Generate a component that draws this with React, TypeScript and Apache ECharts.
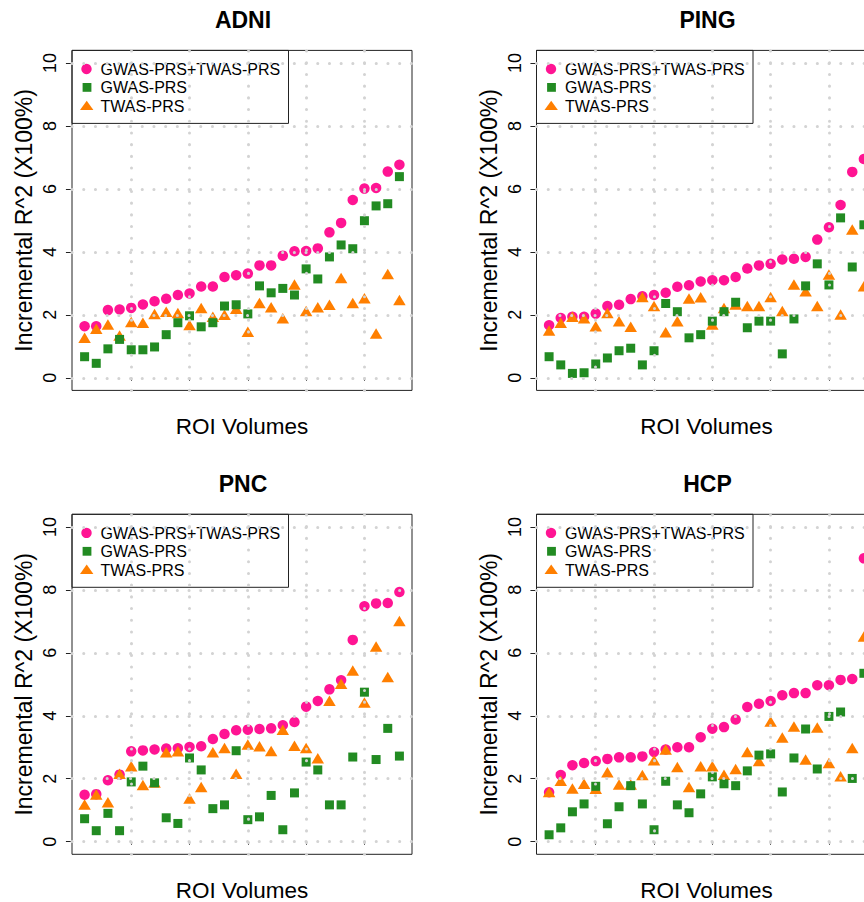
import React, { useEffect, useRef } from "react";
import * as echarts from "echarts";

// ---------- data ----------
const roiIndex = [1, 2, 3, 4, 5, 6, 7, 8, 9, 10, 11, 12, 13, 14, 15, 16, 17, 18, 19, 20, 21, 22, 23, 24, 25, 26, 27, 28];
const yTicks = [0, 2, 4, 6, 8, 10];
const xTicks = [5, 10, 15, 20, 25];
const panelNames = ["ADNI", "PING", "PNC", "HCP"];
const seriesNames = ["GWAS-PRS+TWAS-PRS", "GWAS-PRS", "TWAS-PRS"];

const adniCombined = [1.64, 1.64, 2.15, 2.17, 2.22, 2.33, 2.43, 2.51, 2.63, 2.68, 2.9, 2.9, 3.2, 3.26, 3.31, 3.57, 3.57, 3.88, 4.02, 4.03, 4.11, 4.62, 4.92, 5.65, 6.01, 6.03, 6.55, 6.77];
const adniGwas = [0.67, 0.46, 0.92, 1.22, 0.89, 0.89, 0.98, 1.37, 1.75, 1.97, 1.62, 1.75, 2.28, 2.32, 2.03, 2.92, 2.7, 2.84, 2.63, 3.46, 3.14, 3.84, 4.22, 4.1, 4.99, 5.46, 5.53, 6.39];
const adniTwas = [1.27, 1.56, 1.69, 1.34, 1.77, 1.75, 2.03, 2.1, 2.06, 1.68, 2.22, 1.94, 2.0, 2.19, 1.46, 2.38, 2.24, 1.89, 2.96, 2.12, 2.24, 2.32, 3.17, 2.38, 2.53, 1.41, 3.3, 2.47];

const pingCombined = [1.67, 1.9, 1.94, 1.94, 2.04, 2.28, 2.32, 2.5, 2.59, 2.63, 2.7, 2.89, 2.94, 3.06, 3.1, 3.1, 3.2, 3.47, 3.57, 3.62, 3.76, 3.78, 3.84, 4.39, 4.78, 5.49, 6.54, 6.95];
const pingGwas = [0.67, 0.41, 0.14, 0.16, 0.44, 0.63, 0.86, 0.94, 0.41, 0.86, 2.36, 2.1, 1.27, 1.37, 1.8, 2.1, 2.4, 1.59, 1.8, 1.8, 0.76, 1.87, 2.92, 3.62, 2.95, 5.08, 3.52, 4.86];
const pingTwas = [1.5, 1.75, 1.94, 1.89, 1.64, 2.06, 1.8, 1.62, 2.57, 2.28, 1.45, 1.8, 2.52, 2.56, 1.69, 2.22, 2.33, 2.28, 2.28, 2.57, 2.12, 2.96, 2.75, 2.28, 3.28, 2.01, 4.71, 2.91];

const pncCombined = [1.49, 1.51, 1.95, 2.13, 2.87, 2.9, 2.93, 2.96, 2.97, 3.01, 3.03, 3.26, 3.42, 3.54, 3.56, 3.58, 3.6, 3.7, 3.8, 4.29, 4.47, 4.84, 5.13, 6.41, 7.48, 7.57, 7.58, 7.93];
const pncGwas = [0.73, 0.35, 0.9, 0.35, 1.9, 2.4, 1.87, 0.76, 0.58, 2.66, 2.28, 1.05, 1.17, 2.89, 0.7, 0.79, 1.47, 0.38, 1.55, 2.53, 2.28, 1.17, 1.17, 2.69, 4.75, 2.61, 3.6, 2.72];
const pncTwas = [1.18, 1.5, 1.25, 2.16, 2.4, 1.8, 1.88, 2.84, 2.87, 1.37, 1.74, 2.84, 2.98, 2.16, 3.09, 3.03, 2.88, 3.56, 3.05, 2.98, 2.65, 4.48, 5.02, 5.44, 4.42, 6.2, 5.23, 7.01];

const hcpCombined = [1.57, 2.12, 2.43, 2.5, 2.56, 2.63, 2.68, 2.68, 2.71, 2.85, 2.93, 3.0, 3.0, 3.32, 3.59, 3.64, 3.88, 4.28, 4.38, 4.47, 4.65, 4.72, 4.72, 4.97, 4.97, 5.14, 5.17, 9.0];
const hcpGwas = [0.22, 0.44, 0.95, 1.2, 1.76, 0.57, 1.11, 1.78, 1.2, 0.38, 1.92, 1.17, 0.92, 1.52, 2.06, 1.84, 1.78, 2.25, 2.75, 2.79, 1.58, 2.66, 3.58, 2.31, 3.98, 4.12, 2.01, 5.35];
const hcpTwas = [1.58, 1.94, 1.69, 1.84, 1.68, 2.21, 1.82, 1.82, 2.12, 2.59, 2.93, 2.37, 1.74, 2.4, 2.4, 2.13, 2.31, 2.85, 2.56, 3.82, 3.31, 3.66, 2.61, 3.63, 2.5, 2.08, 2.98, 6.52];

const combinedByPanel = [adniCombined, pingCombined, pncCombined, hcpCombined];
const gwasByPanel = [adniGwas, pingGwas, pncGwas, hcpGwas];
const twasByPanel = [adniTwas, pingTwas, pncTwas, hcpTwas];

// ---------- styling / layout ----------
const FONT = "'Liberation Sans', Arial, Helvetica, sans-serif";
const PINK = "#FF1493";
const GREEN = "#228B22";
const ORANGE = "#FF7F00";
const BOX = "#222222";
const GRID_DOT = "#D3D3D3";
const PANEL_W = 340;
const PANEL_H = 340;
const panelOrigins = [
  [72, 50.4],
  [536.5, 50.4],
  [72, 514.3],
  [536.5, 514.3],
];

function buildOption() {
  const grids: any[] = [];
  const xAxes: any[] = [];
  const yAxes: any[] = [];
  const series: any[] = [];
  const graphics: any[] = [];

  panelNames.forEach((name, p) => {
    const [gx, gy] = panelOrigins[p];
    grids.push({
      left: gx,
      top: gy,
      width: PANEL_W,
      height: PANEL_H,
      show: true,
      borderColor: BOX,
      borderWidth: 1,
      backgroundColor: "transparent",
      containLabel: false,
    });
    xAxes.push({
      type: "value",
      gridIndex: p,
      min: -0.08,
      max: 29.08,
      axisLine: { show: false },
      axisTick: {
        show: true,
        customValues: xTicks,
        length: 3,
        lineStyle: { color: BOX, width: 1 },
      },
      axisLabel: { show: false },
      splitLine: { show: false },
    });
    yAxes.push({
      type: "value",
      gridIndex: p,
      min: -0.4,
      max: 10.4,
      axisLine: { show: false },
      axisTick: {
        show: true,
        customValues: yTicks,
        length: 7,
        lineStyle: { color: BOX, width: 1 },
      },
      axisLabel: {
        show: true,
        customValues: yTicks,
        rotate: 90,
        margin: 13,
        fontSize: 18,
        fontFamily: FONT,
        color: "#000",
      },
      splitLine: { show: false },
    });

    const toPts = (vals: number[]) => roiIndex.map((x, i) => [x, vals[i]]);

    series.push({
      type: "scatter",
      name: seriesNames[0],
      xAxisIndex: p,
      yAxisIndex: p,
      symbol: "circle",
      symbolSize: 10.5,
      itemStyle: { color: PINK, opacity: 1 },
      data: toPts(combinedByPanel[p]),
      silent: true,
    });
    series.push({
      type: "scatter",
      name: seriesNames[2],
      xAxisIndex: p,
      yAxisIndex: p,
      symbol: "triangle",
      symbolSize: [12.5, 10.5],
      itemStyle: { color: ORANGE, opacity: 1 },
      data: toPts(twasByPanel[p]),
      silent: true,
    });
    series.push({
      type: "scatter",
      name: seriesNames[1],
      xAxisIndex: p,
      yAxisIndex: p,
      symbol: "rect",
      symbolSize: 9,
      itemStyle: { color: GREEN, opacity: 1 },
      data: toPts(gwasByPanel[p]),
      silent: true,
      markLine: {
        silent: true,
        symbol: ["none", "none"],
        label: { show: false },
        emphasis: { disabled: true },
        animation: false,
        lineStyle: {
          color: GRID_DOT,
          type: [0.1, 11.6],
          cap: "round",
          width: 3,
          opacity: 1,
        },
        data: [
          ...yTicks.map((v) => ({ yAxis: v })),
          ...xTicks.map((v) => ({ xAxis: v })),
        ],
      },
    });

    // title
    graphics.push({
      type: "text",
      x: gx + PANEL_W / 2 + 1,
      y: gy - 30.4,
      style: {
        text: name,
        font: `bold 23px ${FONT}`,
        fill: "#000",
        textAlign: "center",
        textVerticalAlign: "middle",
      },
    });
    // x axis name
    graphics.push({
      type: "text",
      x: gx + PANEL_W / 2,
      y: gy + 376,
      style: {
        text: "ROI Volumes",
        font: `22.5px ${FONT}`,
        fill: "#000",
        textAlign: "center",
        textVerticalAlign: "middle",
      },
    });
    // y axis name
    graphics.push({
      type: "text",
      x: gx - 48,
      y: gy + PANEL_H / 2,
      rotation: Math.PI / 2,
      style: {
        text: "Incremental R^2 (X100%)",
        font: `23px ${FONT}`,
        fill: "#000",
        textAlign: "center",
        textVerticalAlign: "middle",
      },
    });
    // legend
    const lx = gx;
    const ly = gy;
    graphics.push({
      type: "group",
      children: [
        {
          type: "rect",
          shape: { x: lx, y: ly, width: 216.5, height: 73 },
          style: { fill: "none", stroke: BOX, lineWidth: 1 },
        },
        {
          type: "circle",
          shape: { cx: lx + 14.5, cy: ly + 18.6, r: 5.2 },
          style: { fill: PINK },
        },
        {
          type: "rect",
          shape: { x: lx + 15 - 4.4, y: ly + 37 - 4.4, width: 8.8, height: 8.8 },
          style: { fill: GREEN },
        },
        {
          type: "polygon",
          shape: {
            points: [
              [lx + 14.7, ly + 50.3],
              [lx + 21.4, ly + 59.7],
              [lx + 8, ly + 59.7],
            ],
          },
          style: { fill: ORANGE },
        },
        ...seriesNames.map((t, k) => ({
          type: "text",
          x: lx + 28.5,
          y: ly + [19, 37.4, 55.8][k],
          style: {
            text: t,
            font: `16px ${FONT}`,
            fill: "#000",
            textAlign: "left",
            textVerticalAlign: "middle",
          },
        })),
      ],
    });
  });

  return {
    animation: false,
    backgroundColor: "#ffffff",
    grid: grids,
    xAxis: xAxes,
    yAxis: yAxes,
    series,
    graphic: graphics,
  };
}

export default function App() {
  const ref = useRef<HTMLDivElement | null>(null);
  useEffect(() => {
    if (!ref.current) return;
    const chart = echarts.init(ref.current, undefined, { renderer: "svg" });
    chart.setOption(buildOption() as any);
    return () => {
      chart.dispose();
    };
  }, []);
  return (
    <div
      style={{
        position: "absolute",
        left: 0,
        top: 0,
        width: 864,
        height: 902,
        overflow: "hidden",
        background: "#fff",
      }}
    >
      <div ref={ref} style={{ width: 930, height: 902 }} />
    </div>
  );
}
